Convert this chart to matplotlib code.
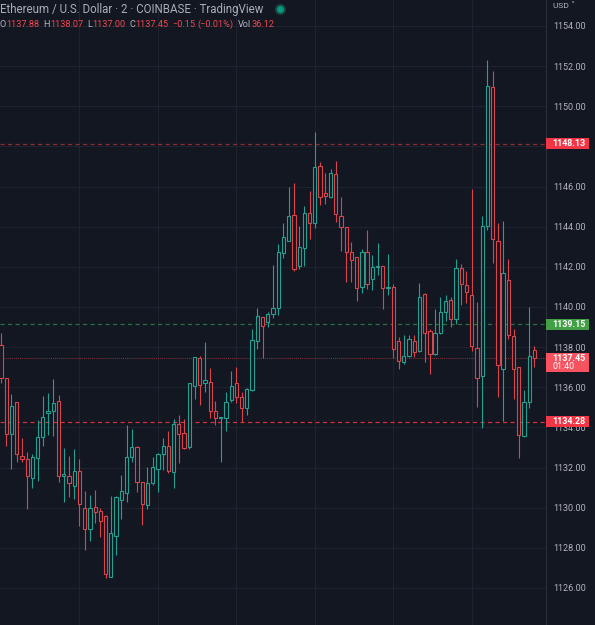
import numpy as np
import matplotlib
matplotlib.use('Agg')
import matplotlib.pyplot as plt
from matplotlib.patches import Rectangle
import matplotlib.transforms as mtrans

plt.rcParams['font.family'] = ['Roboto', 'DejaVu Sans']
plt.rcParams['lines.scale_dashes'] = False

# 2-minute ETH/USD candles
opens = [
    1138.10, 1136.48, 1133.65, 1135.25, 1132.57, 1132.42, 1131.48, 1132.49, 1133.54, 1134.73,
    1134.82, 1135.30, 1131.56, 1131.56, 1131.09, 1131.84, 1129.98, 1128.92, 1130.02, 1129.82,
    1129.60, 1126.56, 1128.60, 1130.38, 1130.71, 1132.54, 1133.04, 1131.26, 1130.13, 1131.24,
    1131.91, 1132.66, 1133.09, 1131.79, 1134.15, 1133.70, 1133.04, 1136.06, 1137.45, 1136.20,
    1136.28, 1134.83, 1134.45, 1134.45, 1135.37, 1136.20, 1135.53, 1134.95, 1135.86, 1138.30,
    1139.52, 1139.27, 1139.63, 1139.93, 1142.71, 1143.30, 1144.57, 1142.06, 1142.92, 1144.67,
    1144.17, 1147.04, 1145.70, 1145.46, 1146.61, 1144.52, 1143.97, 1142.76, 1142.51, 1140.98,
    1142.72, 1141.38, 1141.99, 1142.04, 1140.96, 1141.01, 1138.30, 1137.24, 1137.56, 1138.30,
    1137.80, 1140.63, 1138.82, 1137.66, 1138.72, 1139.77, 1140.35, 1139.42, 1141.93, 1141.08,
    1140.58, 1137.94, 1136.56, 1144.03, 1150.94, 1143.29, 1136.89, 1141.34, 1138.57, 1136.99,
    1133.59, 1135.25, 1137.88]
closes = [
    1136.44, 1133.65, 1135.08, 1132.67, 1132.42, 1131.59, 1132.51, 1133.50, 1134.53, 1134.82,
    1135.23, 1131.56, 1131.66, 1131.24, 1131.84, 1130.17, 1128.94, 1130.00, 1129.80, 1129.32,
    1126.68, 1128.72, 1130.51, 1130.83, 1132.51, 1133.04, 1131.29, 1130.17, 1131.21, 1132.04,
    1132.66, 1133.09, 1131.83, 1134.15, 1133.69, 1132.99, 1136.19, 1137.49, 1136.10, 1136.34,
    1134.82, 1134.45, 1134.52, 1135.28, 1136.06, 1135.53, 1134.95, 1135.90, 1138.35, 1139.55,
    1139.07, 1139.65, 1139.93, 1142.72, 1143.47, 1144.52, 1141.91, 1143.00, 1144.67, 1144.17,
    1146.96, 1145.46, 1145.51, 1146.66, 1144.63, 1143.97, 1142.74, 1142.34, 1140.93, 1142.72,
    1141.13, 1141.97, 1142.04, 1140.93, 1141.00, 1137.89, 1137.30, 1137.56, 1138.39, 1137.77,
    1140.50, 1138.72, 1137.64, 1138.72, 1139.77, 1140.30, 1139.42, 1141.96, 1141.13, 1140.76,
    1138.06, 1136.45, 1144.03, 1151.01, 1143.37, 1137.11, 1141.71, 1138.59, 1136.89, 1133.62,
    1135.25, 1137.56, 1137.45]
highs = [
    1138.69, 1136.48, 1135.66, 1135.25, 1133.45, 1132.76, 1132.67, 1134.37, 1135.56, 1135.70,
    1136.39, 1135.60, 1132.96, 1132.59, 1132.91, 1132.42, 1130.83, 1130.63, 1130.88, 1129.97,
    1129.63, 1130.58, 1130.58, 1131.63, 1134.10, 1133.92, 1133.07, 1131.26, 1132.04, 1132.54,
    1132.74, 1133.47, 1133.80, 1134.43, 1134.62, 1134.40, 1136.19, 1137.49, 1137.55, 1138.25,
    1136.94, 1135.32, 1134.52, 1135.75, 1136.81, 1137.01, 1135.78, 1135.95, 1138.89, 1139.97,
    1139.52, 1139.77, 1142.09, 1143.14, 1144.17, 1145.96, 1146.19, 1144.03, 1145.03, 1145.80,
    1148.70, 1147.21, 1146.66, 1146.86, 1147.27, 1145.48, 1143.97, 1143.24, 1142.51, 1142.87,
    1143.85, 1142.59, 1143.19, 1142.04, 1142.62, 1141.13, 1138.50, 1138.60, 1138.60, 1138.60,
    1141.18, 1140.68, 1138.89, 1139.88, 1140.51, 1140.60, 1140.51, 1142.37, 1142.12, 1141.79,
    1145.86, 1140.26, 1144.55, 1152.31, 1151.76, 1144.17, 1144.28, 1142.37, 1138.92, 1136.99,
    1135.86, 1139.98, 1138.07]
lows = [
    1136.19, 1133.07, 1131.94, 1132.29, 1132.29, 1129.95, 1130.96, 1131.33, 1133.07, 1133.62,
    1133.59, 1131.28, 1130.30, 1130.51, 1130.43, 1129.09, 1127.89, 1128.35, 1129.22, 1128.55,
    1126.48, 1126.56, 1127.64, 1129.45, 1130.30, 1132.26, 1130.76, 1129.15, 1129.95, 1131.14,
    1130.78, 1131.88, 1131.74, 1130.99, 1132.24, 1132.94, 1132.94, 1135.40, 1135.12, 1135.78,
    1134.49, 1134.12, 1132.30, 1133.84, 1135.28, 1135.23, 1134.29, 1134.62, 1135.83, 1137.91,
    1137.44, 1139.00, 1139.43, 1139.60, 1142.46, 1143.30, 1141.81, 1141.91, 1142.06, 1143.39,
    1143.95, 1145.08, 1145.13, 1145.45, 1144.25, 1142.81, 1141.26, 1141.26, 1140.31, 1140.68,
    1140.90, 1140.85, 1141.59, 1139.90, 1140.61, 1137.44, 1136.90, 1137.16, 1137.52, 1137.52,
    1137.77, 1137.27, 1136.66, 1137.61, 1138.65, 1139.32, 1139.02, 1139.15, 1140.10, 1140.18,
    1137.80, 1135.00, 1133.99, 1143.84, 1142.17, 1135.53, 1134.34, 1138.42, 1135.41, 1132.46,
    1133.54, 1134.95, 1137.00]

price_ticks = list(range(1126, 1156, 2))
level_top = 1148.13
level_green = 1139.15
level_low = 1134.28
last_price = 1137.45
countdown = '01:40'

bg = '#131722'
grid_c = '#1f232f'
up_c = '#22a092'
dn_c = '#dc444c'
txt_c = '#b2b5be'

W, H = 595, 625
fig = plt.figure(figsize=(W / 100, H / 100), dpi=100, facecolor=bg)
ax = fig.add_axes([0, 0, 546 / W, 1])
ax.set_facecolor(bg)

o = np.array(opens); c = np.array(closes)
hi = np.array(highs); lo = np.array(lows)
x = np.arange(len(o))
up = c >= o
cols = np.where(up, up_c, dn_c)
btm = np.minimum(o, c)
top = np.maximum(o, c)
hgt = np.maximum(top - btm, 0.06)

ax.set_xlim(-0.19, 104.2)
ax.set_ylim(1124.155, 1155.295)

# grid
for p in price_ticks:
    ax.axhline(p, color=grid_c, lw=0.8, zorder=0)
for i in range(15, 104, 15):
    ax.axvline(i, color=grid_c, lw=0.8, zorder=0)

# candles (hollow bodies)
ax.vlines(x, lo, btm, colors=cols, lw=0.8, zorder=2)
ax.vlines(x, top, hi, colors=cols, lw=0.8, zorder=2)
ax.bar(x, hgt, bottom=btm, width=0.62, facecolor=bg, edgecolor=cols,
       linewidth=0.8, zorder=3)

# horizontal levels
ax.axhline(level_top, color='#8c2c34', lw=0.9, dashes=(3, 2.4), zorder=1)
ax.axhline(level_green, color='#2c6e3c', lw=0.9, dashes=(3, 2.4), zorder=1)
ax.axhline(level_low, color='#cf3039', lw=0.9, dashes=(3, 2.4), zorder=1)
ax.axhline(last_price, color='#7c3039', lw=0.8, dashes=(0.7, 0.7), zorder=1)

# right price scale (1148 is hidden behind the level label)
ax.yaxis.tick_right()
ax.set_yticks(price_ticks)
ax.set_yticklabels(['' if p == 1148 else f'{p:.2f}' for p in price_ticks])
ax.tick_params(axis='y', length=0, pad=5, labelsize=6.5, labelcolor=txt_c)
ax.set_xticks([])
for s in ['top', 'bottom', 'left']:
    ax.spines[s].set_visible(False)
ax.spines['right'].set_color('#2a2e39')
ax.spines['right'].set_linewidth(0.8)

ppu = 20.07  # pixels per price unit
tr = mtrans.blended_transform_factory(ax.transAxes, ax.transData)
bw = 43 / 546


def price_box(p, color, lines=1):
    h = (11 + 8.5 * (lines - 1)) / ppu
    y0 = p + 5.5 / ppu - h
    ax.add_patch(Rectangle((1.0, y0), bw, h, transform=tr, facecolor=color,
                           edgecolor='none', clip_on=False, zorder=5))
    ax.text(1.0 + 6.5 / 546, p, f'{p:.2f}', transform=tr, color='white',
            fontsize=6.4, fontweight='bold', va='center', ha='left',
            clip_on=False, zorder=6)


price_box(level_top, '#f23645')
price_box(level_green, '#43a047')
price_box(level_low, '#f23645')
price_box(last_price, '#f7525f', lines=2)
ax.text(1.0 + 6.5 / 546, last_price - 8.3 / ppu, countdown, transform=tr,
        color='white', fontsize=6.4, va='center', ha='left', clip_on=False, zorder=6)

fig.text(553 / W, 1 - 6 / H, 'USD \u02c5', color=txt_c, fontsize=6,
         va='center', ha='left')

# header
renderer = fig.canvas.get_renderer()


def draw_pieces(pieces, x0, y0, size):
    xx = x0
    for t, col, gap in pieces:
        tt = fig.text(xx / W, 1 - y0 / H, t, color=col, fontsize=size,
                      va='center', ha='left')
        xx += tt.get_window_extent(renderer).width + gap
    return xx


hdr_end = draw_pieces([('Ethereum / U.S. Dollar \u00b7 2 \u00b7 COINBASE \u00b7 TradingView', '#a9adb7', 0)],
                      0, 9, 8.3)
ax.plot([(hdr_end + 17) / W], [1 - 9 / H], 'o', transform=fig.transFigure,
        ms=6.5, mfc='#089981', mec='#16463f', mew=1.5, clip_on=False, zorder=10)

red = '#f0474f'
draw_pieces([
    ('O', txt_c, 0), (f'{opens[-1]:.2f}', red, 4),
    ('H', txt_c, 0), (f'{highs[-1]:.2f}', red, 4),
    ('L', txt_c, 0), (f'{lows[-1]:.2f}', red, 4),
    ('C', txt_c, 0), (f'{closes[-1]:.2f}', red, 4),
    ('\u22120.15', red, 3), ('(\u22120.01%)', red, 4),
    ('Vol', txt_c, 0), ('36.12', red, 0),
], 0, 24.5, 6.6)

fig.savefig('out.png', dpi=100, facecolor=bg)
